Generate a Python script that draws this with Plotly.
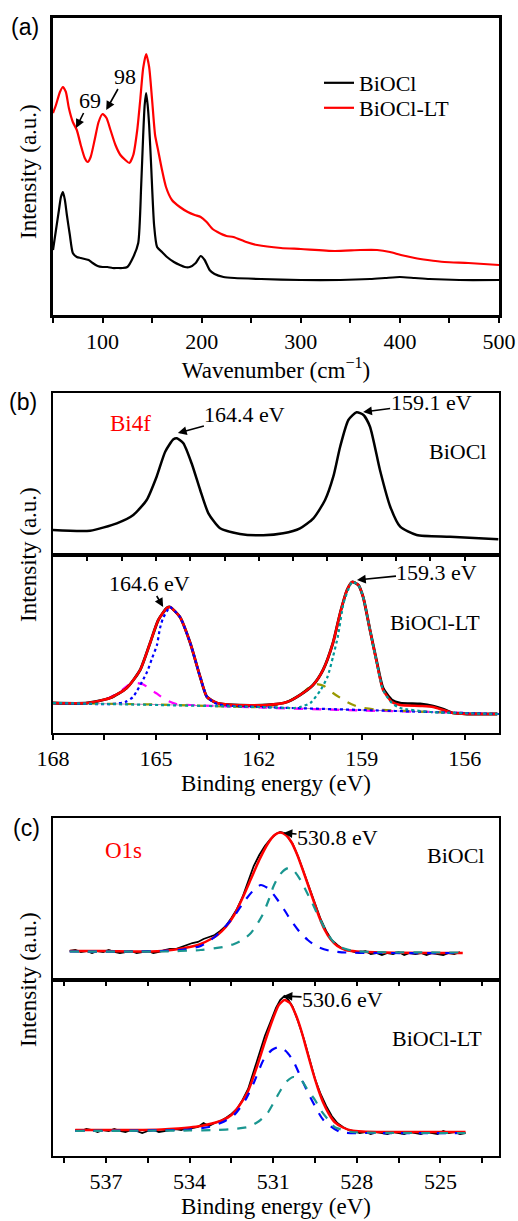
import plotly.graph_objects as go

W, H = 518, 1221

# ---------------- Panel (a): Raman ----------------
raman_wn_black = [50, 53, 56, 58, 60, 62, 64, 67, 70, 74, 78, 82, 86, 90, 95, 100, 105, 110, 115, 120,
                  125, 131, 136, 139, 141, 142.5, 144, 145.5, 147, 149, 152, 155, 160, 165, 172, 178,
                  183, 188, 194, 199, 203, 208, 213, 222, 233, 260, 300, 340, 370, 385, 400, 415, 430,
                  460, 500]
raman_I_black = [65, 85, 105, 118, 123, 115, 100, 80, 62, 58, 57, 56, 55, 52, 49, 48, 48, 47, 47, 47,
                 48, 58, 72, 130, 180, 210, 222, 210, 190, 150, 90, 68, 63, 58, 53, 50,
                 48, 48, 52, 59, 55, 45, 41, 38, 37, 36, 35, 35, 36, 37, 38, 37, 36,
                 35, 35]

raman_wn_red = [50, 53, 57, 60, 63, 66, 70, 74, 78, 82, 85, 88, 92, 96, 100, 104, 108, 113, 118, 123,
                127, 131, 135, 138, 141, 144, 147, 150, 153, 156, 160, 164, 170, 178, 186, 193,
                199, 205, 211, 216, 225, 232, 245, 256, 280, 300, 334, 360, 377, 390, 401, 415, 428,
                445, 469, 500]
raman_I_red = [202, 210, 223, 228, 223, 207, 193, 185, 170, 157, 153, 158, 175, 193, 201, 197, 185, 170,
               160, 155, 152, 160, 185, 215, 247, 261, 248, 215, 180, 165, 145, 128, 115, 108, 103, 100,
               98, 93, 86, 83, 79, 78, 73, 70, 67, 66, 64, 65, 65, 63, 60, 57, 55,
               53, 52, 50]

raman_major = [100, 200, 300, 400, 500]
raman_minor = [50, 150, 250, 350, 450]

# ---------------- Panel (b): Bi4f ----------------
bi_be_biocl = [168.0, 166.92, 166.14, 165.66, 165.27, 164.98, 164.73, 164.49, 164.39, 164.2, 163.96,
               163.71, 163.47, 163.13, 162.55, 161.87, 161.29, 160.8, 160.41, 160.07, 159.83, 159.63,
               159.39, 159.15, 158.95, 158.76, 158.47, 158.17, 157.88, 157.4, 156.43, 155.02]
bi_I_biocl = [25, 24.3, 31.7, 40, 55, 78.3, 103.3, 115.7, 116.7, 111.7, 91.7,
              65, 41.7, 26.7, 21, 19.7, 21.7, 26.7, 36.7, 55, 78.3, 108.3,
              135, 142.7, 140, 128.3, 85, 48.3, 28.3, 20, 18.3, 15.7]

bi_be_lt = [168.0, 167.0, 166.34, 165.85, 165.46, 165.17, 164.93, 164.68, 164.59, 164.3, 164.0, 163.71,
            163.51, 163.22, 162.75, 161.76, 161.18, 160.8, 160.42, 160.13, 159.84, 159.63, 159.43,
            159.28, 159.1, 158.96, 158.76, 158.56, 158.38, 158.12, 157.88, 157.3, 156.92, 156.63,
            156.34, 155.93, 155.05]
bi_I_lt_data = [30, 30, 35, 45, 63, 90, 113, 125, 126, 116, 90, 56,
                36, 30, 28, 28, 31, 38, 48, 63, 90, 120, 143,
                151, 148, 136, 103, 71, 45, 33, 30, 29, 27, 24,
                20, 19, 19]
bi_I_lt_fit = [30, 30, 35, 45, 63, 90, 113, 125, 126, 116, 90, 56,
               36, 30, 28, 28, 31, 38, 48, 63, 90, 120, 143,
               151, 148, 136, 103, 70, 43, 31, 28, 27, 26, 23,
               20, 19, 19]

bi_be_base = [168, 165, 162, 159, 157, 155]
bi_I_base = [30, 28.5, 26, 23, 21, 19]

bi_be_mag = [168, 167, 166.5, 166.1, 165.8, 165.6, 165.4, 165.2, 165.0, 164.7, 164.4, 164.0, 162, 159, 157, 155]
bi_I_mag = [30, 30, 33, 40, 48, 50, 49, 45, 40, 33, 29, 28, 25.5, 22.5, 21, 19]

bi_be_blue = [168, 166.3, 165.9, 165.67, 165.26, 165.11, 164.97, 164.88, 164.79, 164.64, 164.59, 164.3,
              164.0, 163.71, 163.51, 163.22, 162.75, 162, 159, 157, 155]
bi_I_blue = [30, 29, 31, 36, 61, 75, 88, 105, 115, 124, 126, 116,
             90, 56, 36, 29, 27, 26, 23, 21, 19]

bi_be_olive = [168, 165, 162, 161.5, 161.18, 160.8, 160.55, 160.35, 160.1, 159.84, 159.43, 159.1, 158.6, 157, 155]
bi_I_olive = [30, 28.5, 26, 28, 31, 38, 45, 49, 47, 40, 31, 26, 23.5, 21, 19]

bi_be_teal = [168, 162, 161, 160.8, 160.5, 160.2, 160.0, 159.84, 159.7, 159.53, 159.4, 159.28, 159.1,
              158.96, 158.76, 158.56, 158.38, 158.12, 157.88, 157, 155]
bi_I_teal = [30, 26, 25, 26, 30, 43, 56, 76, 96, 130, 143, 151, 148,
             136, 103, 70, 43, 30, 25, 21, 19]

bi_ticks_top = [167, 166, 165, 164, 163, 162, 161, 160, 159, 158, 157, 156]
bi_major = [168, 165, 162, 159, 156]
bi_minor = [166.5, 163.5, 160.5, 157.5]

# ---------------- Panel (c): O1s ----------------
o_be_top_data = [538.3, 538.1, 537.9, 537.7, 537.5, 537.3, 537.1, 536.9, 536.7, 536.5, 536.3, 536.1,
                 535.9, 535.7, 535.5, 535.3, 535.1, 534.9, 534.7, 534.5, 534.3, 534.1, 533.9, 533.7,
                 533.5, 533.3, 533.1, 532.9, 532.7, 532.5, 532.3, 532.1, 531.9, 531.7, 531.5, 531.3,
                 531.1, 530.9, 530.75, 530.6, 530.45, 530.3, 530.1, 529.9, 529.7, 529.5, 529.3, 529.1,
                 528.9, 528.7, 528.5, 528.3, 528.1, 527.9, 527.7, 527.5, 527.3, 527.1, 526.9, 526.7,
                 526.5, 526.3, 526.1, 525.9, 525.7, 525.5, 525.3, 525.1, 524.9, 524.7, 524.5, 524.3]
o_I_top_data = [29, 30, 28, 29, 27, 29, 28, 30, 28, 27, 28, 29,
                27, 28, 29, 27, 28, 30, 31, 31, 33, 35, 37, 38,
                41, 43, 45, 49, 54, 62, 71, 83, 99, 114, 125, 134,
                141, 146, 148, 147, 142, 136, 123, 107, 91, 76, 61, 49,
                40, 35, 31, 30, 28, 27, 29, 26, 27, 25, 27, 26,
                28, 25, 27, 26, 27, 25, 27, 26, 25, 27, 26, 28]
o_be_top_fit = [538.3, 537, 536, 535, 534.4, 534, 533.6, 533.3, 533, 532.7, 532.4, 532.1, 531.8, 531.5,
                531.2, 530.95, 530.75, 530.55, 530.35, 530.15, 529.95, 529.75, 529.55, 529.35, 529.15,
                528.95, 528.7, 528.4, 528, 527, 524.2]
o_I_top_fit = [29, 29, 28.5, 29, 31, 33, 36, 40, 45, 53, 65, 82, 101, 120,
               136, 145, 147.5, 145, 138, 126, 111, 95, 79, 63, 50,
               41, 34, 30, 28.5, 27.5, 27]
o_be_top_c1 = [538.3, 536, 535, 534.2, 533.6, 533.1, 532.7, 532.4, 532.0, 531.7, 531.45, 531.2, 531.0,
               530.84, 530.6, 530.37, 530.05, 529.76, 529.4, 528.94, 528.4, 527, 524.2]
o_I_top_c1 = [28.5, 28.5, 29, 30.5, 34, 43, 54, 64, 80, 90, 95, 92, 86,
              80, 70, 60, 48, 40, 33, 29, 27.5, 27, 27]
o_be_top_c2 = [538.3, 535, 533.6, 532.8, 532.4, 532.1, 531.8, 531.55, 531.35, 531.15, 531.0, 530.8, 530.6,
               530.45, 530.25, 530.0, 529.8, 529.6, 529.4, 529.2, 529.0, 528.8, 528.6, 528.2, 527.5, 524.2]
o_I_top_c2 = [28.5, 28.5, 30, 33, 36, 40, 47, 57, 67, 81, 93, 104, 110,
              112, 109, 99, 88, 77, 65, 54, 44, 37, 33, 29.5, 28, 27.5]

o_be_bot_data = [538.1, 537.9, 537.7, 537.5, 537.3, 537.1, 536.9, 536.7, 536.5, 536.3, 536.1, 535.9,
                 535.7, 535.5, 535.3, 535.1, 534.9, 534.7, 534.5, 534.3, 534.1, 533.9, 533.7, 533.5,
                 533.3, 533.1, 532.9, 532.7, 532.5, 532.3, 532.1, 531.9, 531.7, 531.5, 531.3, 531.1,
                 530.9, 530.75, 530.6, 530.45, 530.3, 530.1, 529.9, 529.7, 529.5, 529.3, 529.1, 528.9,
                 528.7, 528.5, 528.3, 528.1, 527.9, 527.7, 527.5, 527.3, 527.1, 526.9, 526.7, 526.5,
                 526.3, 526.1, 525.9, 525.7, 525.5, 525.3, 525.1, 524.9, 524.7, 524.5, 524.3, 524.1]
o_I_bot_data = [26, 25, 27, 26, 24, 26, 25, 27, 25, 24, 26, 25,
                23, 25, 26, 24, 25, 26, 27, 26, 28, 28, 29, 33,
                30, 33, 35, 38, 42, 47, 56, 67, 85, 104, 120, 134,
                148, 156, 160, 156, 149, 134, 117, 97, 77, 62, 50, 40,
                33, 29, 26, 25, 23, 24, 22, 24, 23, 22, 24, 23,
                22, 24, 23, 22, 24, 23, 22, 25, 23, 24, 22, 23]
o_be_bot_fit = [538.1, 537, 536, 535, 534.4, 534, 533.6, 533.2, 532.8, 532.5, 532.2, 531.9, 531.6, 531.3,
                531.0, 530.8, 530.6, 530.4, 530.2, 530.0, 529.8, 529.6, 529.4, 529.2, 529.0, 528.8,
                528.5, 528.2, 527.8, 527, 524.1]
o_I_bot_fit = [26, 26, 26, 26.5, 27.5, 28.5, 30, 32.5, 36, 41, 51, 65, 88, 114,
               138, 151, 156, 153, 142, 126, 106, 86, 68, 53, 42, 34,
               28.5, 25.5, 24.5, 24, 24]
o_be_bot_c1 = [538.1, 534, 533.3, 532.8, 532.4, 532.0, 531.7, 531.35, 531.05, 530.8, 530.55, 530.3,
               529.8, 529.2, 528.6, 527.5, 524.1]
o_I_bot_c1 = [25, 26.5, 29, 34, 41, 56, 73, 96, 106, 109, 105, 96,
              66, 36, 24, 23, 23]
o_be_bot_c2 = [538.1, 534, 533, 532.4, 531.9, 531.5, 531.2, 530.95, 530.73, 530.5, 530.27, 530.0,
               529.76, 529.5, 529.3, 529.05, 528.8, 528.5, 528.2, 524.1]
o_I_bot_c2 = [25, 25.5, 26, 27, 29, 35, 43, 55, 66, 75, 79, 76,
              66, 56, 46, 37, 29, 26, 24, 23]

o_major = [537, 534, 531, 528, 525]
o_minor = [538.5, 535.5, 532.5, 529.5, 526.5, 523.5]
o_ticks_top = [538.5, 537, 535.5, 534, 532.5, 531, 529.5, 528, 526.5, 525, 523.5]

# ---------------- figure ----------------
SERIF = "Liberation Serif"
SANS = "Liberation Sans"
RED = "#ff0000"
BLACK = "#000000"

def px(p):
    return p / W

def py(p):
    return 1 - p / H

XDOM = [px(53), px(499)]

fig = go.Figure()

def line(x, y, xa, ya, color, width=2.5, dash="solid", name=None, legend=None, shape="spline"):
    kw = dict(showlegend=False)
    if legend:
        kw = dict(showlegend=True, legend=legend)
    fig.add_trace(go.Scatter(
        x=x, y=y, xaxis=xa, yaxis=ya, mode="lines", name=name,
        line=dict(color=color, width=width, dash=dash, shape=shape, smoothing=0.6),
        hoverinfo="skip", **kw))

# (a)
line(raman_wn_black, raman_I_black, "x", "y", BLACK, 2.2, name="BiOCl", legend="legend")
line(raman_wn_red, raman_I_red, "x", "y", RED, 2.2, name="BiOCl-LT", legend="legend2")

# (b) top
line(bi_be_biocl, bi_I_biocl, "x2", "y2", BLACK, 2.5)
# (b) bottom
line(bi_be_base, bi_I_base, "x3", "y3", "#c080c0", 1.0, shape="linear")
line(bi_be_mag, bi_I_mag, "x3", "y3", "#ff00ff", 2.2, dash="dash")
line(bi_be_olive, bi_I_olive, "x3", "y3", "#999900", 2.2, dash="dash")
line(bi_be_lt, bi_I_lt_data, "x3", "y3", BLACK, 2.8)
line(bi_be_lt, bi_I_lt_fit, "x3", "y3", RED, 2.5)
line(bi_be_blue, bi_I_blue, "x3", "y3", "#0000ff", 2.2, dash="dot")
line(bi_be_teal, bi_I_teal, "x3", "y3", "#009999", 2.2, dash="dot")

# (c) top
line(o_be_top_data, o_I_top_data, "x4", "y4", BLACK, 1.8, shape="linear")
line(o_be_top_fit, o_I_top_fit, "x4", "y4", RED, 2.5)
line(o_be_top_c1, o_I_top_c1, "x4", "y4", "#0000ff", 2.2, dash="dash")
line(o_be_top_c2, o_I_top_c2, "x4", "y4", "#1a9690", 2.2, dash="dash")
# (c) bottom
line(o_be_bot_data, o_I_bot_data, "x5", "y5", BLACK, 1.8, shape="linear")
line(o_be_bot_fit, o_I_bot_fit, "x5", "y5", RED, 2.5)
line(o_be_bot_c1, o_I_bot_c1, "x5", "y5", "#0000ff", 2.2, dash="dash")
line(o_be_bot_c2, o_I_bot_c2, "x5", "y5", "#1a9690", 2.2, dash="dash")

tickfont = dict(family=SERIF, size=22, color=BLACK)
titlefont = dict(family=SERIF, size=23, color=BLACK)

def xaxis(rng, anchor, major, minor, lw, title=None, ticklen=5, labels=True):
    d = dict(domain=XDOM, range=rng, anchor=anchor, tickmode="array", tickvals=major,
             showticklabels=labels, showline=True, linecolor=BLACK, linewidth=lw, mirror=True,
             ticks="outside", ticklen=ticklen, tickwidth=2, tickcolor=BLACK, showgrid=False,
             zeroline=False, tickfont=tickfont, fixedrange=True, automargin=False)
    if minor:
        d["minor"] = dict(tickmode="array", tickvals=minor, ticks="outside", ticklen=ticklen,
                          tickwidth=2, tickcolor=BLACK, showgrid=False)
    if title:
        d["title"] = dict(text=title, font=titlefont, standoff=4)
    return d

def yaxis(dom, rng, anchor, lw):
    return dict(domain=dom, range=rng, anchor=anchor, showticklabels=False, ticks="",
                showline=True, linecolor=BLACK, linewidth=lw, mirror=True, showgrid=False,
                zeroline=False, fixedrange=True, automargin=False)

legfont = dict(family=SERIF, size=22, color=BLACK)

fig.update_layout(
    width=W, height=H, margin=dict(l=0, r=0, t=0, b=0, autoexpand=False),
    paper_bgcolor="white", plot_bgcolor="white",
    font=dict(family=SERIF, size=22, color=BLACK),
    xaxis=xaxis([50, 500], "y", raman_major, raman_minor, 3, "Wavenumber (cm<sup>−1</sup>)"),
    yaxis=yaxis([py(315), py(18)], [0, 297], "x", 3),
    xaxis2=xaxis([168, 155], "y2", bi_ticks_top, None, 2, ticklen=4, labels=False),
    yaxis2=yaxis([py(555), py(393)], [0, 162], "x2", 2),
    xaxis3=xaxis([168, 155], "y3", bi_major, bi_minor, 2, "Binding energy (eV)"),
    yaxis3=yaxis([py(733), py(555)], [0, 178], "x3", 2),
    xaxis4=xaxis([538.9, 522.9], "y4", o_ticks_top, None, 2, ticklen=4, labels=False),
    yaxis4=yaxis([py(980), py(818)], [0, 162], "x4", 2),
    xaxis5=xaxis([538.9, 522.9], "y5", o_major, o_minor, 2, "Binding energy (eV)"),
    yaxis5=yaxis([py(1156), py(980)], [0, 176], "x5", 2),
    legend=dict(x=px(319), y=py(83), xanchor="left", yanchor="middle", font=legfont,
                bgcolor="rgba(0,0,0,0)", borderwidth=0),
    legend2=dict(x=px(319), y=py(108), xanchor="left", yanchor="middle", font=legfont,
                 bgcolor="rgba(0,0,0,0)", borderwidth=0),
)

ann = []

def text(x, y, s, color=BLACK, size=22, family=SERIF, angle=0):
    ann.append(dict(x=px(x), y=py(y), xref="paper", yref="paper", text=s, showarrow=False,
                    font=dict(family=family, size=size, color=color), textangle=angle,
                    xanchor="center", yanchor="middle"))

def arrow(x, y, xr, yr, s, ax, ay):
    ann.append(dict(x=x, y=y, xref=xr, yref=yr, text=s, showarrow=True, ax=ax, ay=ay,
                    arrowhead=2, arrowsize=1.1, arrowwidth=1.6, arrowcolor=BLACK,
                    font=dict(family=SERIF, size=22, color=BLACK), borderpad=0))

# panel labels
text(25, 27, "(a)", family=SANS, size=23)
text(23, 402, "(b)", family=SANS, size=23)
text(26, 828, "(c)", family=SANS, size=23)
# y titles
text(28, 172, "Intensity (a.u.)", size=23, angle=-90)
text(28, 555, "Intensity (a.u.)", size=23, angle=-90)
text(28, 980, "Intensity (a.u.)", size=23, angle=-90)
# panel (a) arrows
arrow(73.3, 187, "x", "y", "69", 14, -28)
arrow(103.7, 205, "x", "y", "98", 19, -34)
# panel (b)
text(130, 423, "Bi4f", color=RED, size=23)
text(457, 452, "BiOCl")
text(435, 623, "BiOCl-LT")
arrow(164.36, 122, "x2", "y2", "164.4 eV", 67, -18)
arrow(158.96, 143, "x2", "y2", "159.1 eV", 68, -9)
arrow(164.79, 126, "x3", "y3", "164.6 eV", -14, -24)
arrow(159.14, 153, "x3", "y3", "159.3 eV", 80, -8)
# panel (c)
text(123, 850, "O1s", color=RED, size=23)
text(455, 855, "BiOCl")
text(437, 1038, "BiOCl-LT")
arrow(530.63, 147, "x4", "y4", "530.8 eV", 54, 4)
arrow(530.63, 160, "x5", "y5", "530.6 eV", 59, 3)

fig.update_layout(annotations=ann)
fig.write_html("out.html")
